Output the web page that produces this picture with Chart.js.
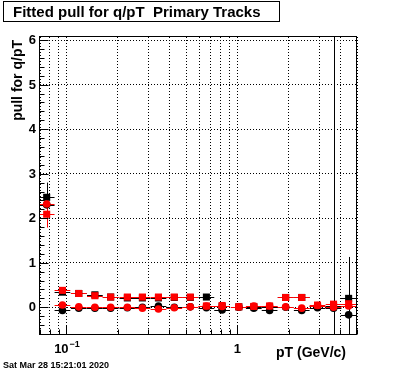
<!DOCTYPE html>
<html><head><meta charset="utf-8">
<script src="https://cdn.jsdelivr.net/npm/chart.js@4.4.0/dist/chart.umd.min.js"></script>
<style>html,body{margin:0;padding:0;background:#fff;}</style>
</head><body>
<canvas id="c" width="396" height="372"></canvas>
<script>
// ---- data ----
const ptBins = [0.0766,0.0947,0.118,0.1466,0.1813,0.227,0.278,0.345,0.427,0.53,0.658,0.813,1.018,1.246,1.541,1.913,2.376,2.938,3.647,4.467];
const binHalfWidthDec = 0.046; // half bin width in decades
const blackSquare = [2.47,0.34,0.31,0.28,0.23,0.21,0.21,0.21,0.22,0.22,0.23,0.02,0.01,0.01,0.01,0.22,0.22,0.03,0.03,0.20];
const blackSquareErr = [0.33,0.03,0.02,0.02,0.02,0.02,0.02,0.02,0.02,0.02,0.03,0.02,0.02,0.02,0.02,0.03,0.03,0.03,8.0,0.06];
const redSquare = [2.09,0.38,0.31,0.26,0.23,0.23,0.23,0.23,0.23,0.23,0.03,0.04,0.01,0.02,0.03,0.22,0.22,0.05,0.07,0.08];
const redSquareErr = [0.30,0.03,0.02,0.02,0.02,0.02,0.02,0.02,0.02,0.02,0.02,0.02,0.02,0.02,0.02,0.03,0.03,0.03,0.04,0.06];
const blackCircle = [2.30,-0.07,-0.02,-0.02,-0.02,-0.01,0.00,0.03,0.00,0.01,-0.01,-0.06,0.00,-0.02,-0.07,0.00,-0.07,-0.01,-0.02,-0.17];
const blackCircleErr = [0.30,0.02,0.02,0.02,0.02,0.02,0.02,0.02,0.02,0.02,0.02,0.02,0.02,0.02,0.02,0.02,0.02,0.03,0.04,1.30];
const redCircle = [2.32,0.05,0.01,0.00,0.00,0.00,-0.02,-0.04,-0.01,0.01,0.03,0.02,0.01,0.03,0.03,0.01,-0.02,0.04,0.00,0.03];
const redCircleErr = [0.20,0.02,0.02,0.02,0.02,0.02,0.02,0.02,0.02,0.02,0.02,0.02,0.02,0.02,0.02,0.02,0.02,0.03,0.04,0.05];
const xTicks = [0.07,0.08,0.09,0.1,0.2,0.3,0.4,0.5,0.6,0.7,0.8,0.9,1,2,3,4,5];
const xMajor = [0.1,1];
const yGrid = [0,1,2,3,4,5,6];
const yLabels = ['0','1','2','3','4','5','6'];
const titleText = 'Fitted pull for q/pT  Primary Tracks';
const xTitle = 'pT (GeV/c)';
const yTitle = 'pull for q/pT';
const dateText = 'Sat Mar 28 15:21:01 2020';

const FONT = '"Liberation Sans", Arial, Helvetica, sans-serif';
const pts = arr => ptBins.map((x,i)=>({x:x, y:arr[i]}));

function mk(label, arr, err, color, style, radius, order){
  return {label, data: pts(arr), yErr: err, showLine:false, pointStyle: style,
    pointRadius: radius, pointHoverRadius: radius, backgroundColor: color, borderColor: color,
    borderWidth: 0, order, errColor: color};
}
const datasets = [
  mk('bs', blackSquare, blackSquareErr, '#000000', 'rect', 5, 3),
  mk('bc', blackCircle, blackCircleErr, '#000000', 'circle', 3.8, 2),
  mk('rs', redSquare, redSquareErr, '#ff0000', 'rect', 5, 1),
  mk('rc', redCircle, redCircleErr, '#ff0000', 'circle', 3.8, 0)
];

const rootPlugin = {
  id: 'rootStyle',
  beforeDatasetsDraw(chart){
    const {ctx, chartArea:a, scales:{x, y}} = chart;
    ctx.save();
    ctx.beginPath(); ctx.rect(a.left, a.top, a.right-a.left, a.bottom-a.top); ctx.clip();
    ctx.lineWidth = 1;
    const f = Math.pow(10, binHalfWidthDec);
    chart.data.datasets.forEach(ds=>{
      ctx.strokeStyle = ds.errColor;
      ds.data.forEach((p,i)=>{
        const px = Math.round(x.getPixelForValue(p.x))+0.5;
        const py = Math.round(y.getPixelForValue(p.y))+0.5;
        const xl = x.getPixelForValue(p.x/f), xh = x.getPixelForValue(p.x*f);
        const e = ds.yErr[i];
        const yl = y.getPixelForValue(p.y-e), yh = y.getPixelForValue(p.y+e);
        ctx.beginPath();
        ctx.moveTo(xl, py); ctx.lineTo(xh, py);
        ctx.moveTo(px, yl); ctx.lineTo(px, yh);
        ctx.stroke();
      });
    });
    ctx.restore();
  },
  afterDraw(chart){
    const {ctx, chartArea:a, scales:{x, y}} = chart;
    ctx.save();
    ctx.strokeStyle = '#000'; ctx.fillStyle = '#000'; ctx.lineWidth = 1;
    const L = Math.round(a.left)-0.5, R = Math.round(a.right)-0.5, T = Math.round(a.top)-0.5, B = Math.round(a.bottom)+0.5;
    ctx.strokeRect(L, T, R-L, B-T);
    // x ticks
    ctx.beginPath();
    xTicks.forEach(v=>{
      const px = Math.round(x.getPixelForValue(v))+0.5;
      const len = xMajor.includes(v) ? 9 : 5;
      ctx.moveTo(px, B); ctx.lineTo(px, B-len);
    });
    // y ticks: major each unit, minor each 0.2
    for(let k=-3;k<=30;k++){
      const v = k/5;
      const py = Math.round(y.getPixelForValue(v))+0.5;
      if(py < a.top-1 || py > a.bottom+1) continue;
      const len = (k%5===0) ? 9 : 5;
      ctx.moveTo(L, py); ctx.lineTo(L+len, py);
    }
    ctx.stroke();
    // y labels
    ctx.font = 'bold 13px ' + FONT;
    ctx.textAlign = 'right'; ctx.textBaseline = 'middle';
    yGrid.forEach((v,i)=>{ ctx.fillText(yLabels[i], 36, y.getPixelForValue(v)+0.5); });
    // x labels
    ctx.textBaseline = 'alphabetic'; ctx.textAlign = 'left';
    {
      const px = x.getPixelForValue(0.1);
      ctx.font = 'bold 13px ' + FONT; const w1 = ctx.measureText('10').width;
      ctx.font = 'bold 9px ' + FONT; const w2 = ctx.measureText('\u22121').width;
      const s = px - (w1+w2)/2;
      ctx.font = 'bold 13px ' + FONT; ctx.fillText('10', s, 353);
      ctx.font = 'bold 9px ' + FONT; ctx.fillText('\u22121', s+w1+1, 347);
      ctx.font = 'bold 13px ' + FONT; ctx.textAlign = 'center';
      ctx.fillText('1', x.getPixelForValue(1), 353);
    }
    // axis titles
    ctx.font = 'bold 14px ' + FONT;
    ctx.textAlign = 'right';
    ctx.fillText(xTitle, 346, 357);
    ctx.save();
    ctx.translate(21.5, 40); ctx.rotate(-Math.PI/2);
    ctx.textAlign = 'right'; ctx.fillText(yTitle, 0, 0);
    ctx.restore();
    // title box
    ctx.strokeRect(3.5, 1.5, 276, 20);
    ctx.font = 'bold 15px ' + FONT; ctx.textAlign = 'left';
    ctx.fillText(titleText, 13, 16.5);
    // date
    ctx.font = 'bold 9px ' + FONT;
    ctx.fillText(dateText, 3, 367.5);
    ctx.restore();
  }
};

new Chart(document.getElementById('c'), {
  type: 'scatter',
  data: { datasets },
  options: {
    responsive: false, animation: false, devicePixelRatio: 1,
    layout: { padding: { left: 40, right: 39, top: 37, bottom: 38 } },
    plugins: { legend: {display:false}, tooltip: {enabled:false}, title:{display:false} },
    scales: {
      x: { type: 'logarithmic', min: 0.07, max: 5,
        afterBuildTicks: s => { s.ticks = xTicks.map(v=>({value:v})); },
        afterFit: s => { s.height = 0; },
        ticks: { display: false },
        grid: { color: '#000', lineWidth: 1, drawTicks: false },
        border: { display: false, dash: [1,2] } },
      y: { type: 'linear', min: -0.6, max: 6.07,
        afterBuildTicks: s => { s.ticks = yGrid.map(v=>({value:v})); },
        afterFit: s => { s.width = 0; },
        ticks: { display: false },
        grid: { color: '#000', lineWidth: 1, drawTicks: false },
        border: { display: false, dash: [1,2] } }
    }
  },
  plugins: [rootPlugin]
});
</script>
</body></html>
